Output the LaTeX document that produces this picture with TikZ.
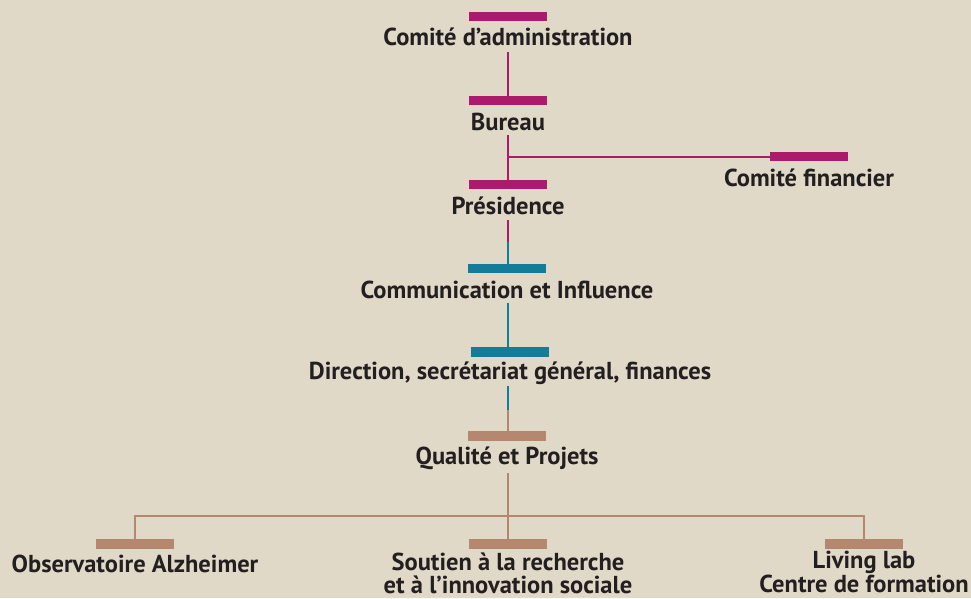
\documentclass[tikz,border=0pt]{standalone}
\usepackage{fontspec}
\setmainfont{PT Sans}
\definecolor{bg}{HTML}{E0D9C7}
\definecolor{mag}{HTML}{AB1A6B}
\definecolor{teal}{HTML}{137C98}
\definecolor{brn}{HTML}{B5876F}
\definecolor{ink}{HTML}{231F20}
\begin{document}
\begin{tikzpicture}[x=1pt,y=-1pt,
  bar/.style={rectangle,inner sep=0pt,minimum width=78pt,minimum height=9.5pt,draw=none},
  lbl/.style={font=\bfseries\fontsize{24.5}{22.5}\selectfont,text=ink,align=center,inner sep=0pt,anchor=base},
  conn/.style={line width=2pt}]
\fill[bg] (0,0) rectangle (971,598);
\useasboundingbox (0,0) rectangle (971,598);
% bars
\node[bar,fill=mag] (b1) at (508,16.5) {};
\node[bar,fill=mag] (b2) at (508,100.5) {};
\node[bar,fill=mag] (b3) at (508,184.5) {};
\node[bar,fill=mag] (bf) at (809,156.5) {};
\node[bar,fill=teal] (b4) at (507,268.5) {};
\node[bar,fill=teal] (b5) at (510,352) {};
\node[bar,fill=brn] (b6) at (507,436) {};
\node[bar,fill=brn] (b7) at (135,544) {};
\node[bar,fill=brn] (b8) at (508,544) {};
\node[bar,fill=brn] (b9) at (864,544) {};
% labels
\node[lbl] (t1) at (508,45) {Comité d’administration};
\node[lbl] (t2) at (508,130) {Bureau};
\node[lbl] (t3) at (508,214) {Présidence};
\node[lbl] (tf) at (809,186) {Comité financier};
\node[lbl] (t4) at (507,298) {Communication et Influence};
\node[lbl] (t5) at (510,379) {Direction, secrétariat général, finances};
\node[lbl] (t6) at (507,464) {Qualité et Projets};
\node[lbl] (t7) at (135,572) {Observatoire Alzheimer};
\node[lbl,text depth=0pt] (t8) at (508,593) {Soutien à la recherche\\et à l’innovation sociale};
\node[lbl,text depth=0pt] (t9) at (864,592.5) {Living lab\\Centre de formation};
% connector points
\coordinate (c1) at (508,52);
\coordinate (c2) at (508,135);
\coordinate (cj) at (508,157);
\coordinate (c3) at (508,220);
\coordinate (c3m) at (508,242);
\coordinate (c4) at (508,303);
\coordinate (c5) at (508,386);
\coordinate (c5m) at (508,410);
\coordinate (c6) at (508,473);
\coordinate (cb) at (508,516);
% connectors
\draw[conn,mag] (c1) -- (b2.north -| c1);
\draw[conn,mag] (c2) -- (b3.north -| c2);
\draw[conn,mag] (cj) -- (bf.west |- cj);
\draw[conn,mag] (c3) -- (c3m);
\draw[conn,teal] (c3m) -- (b4.north -| c3m);
\draw[conn,teal] (c4) -- (b5.north -| c4);
\draw[conn,teal] (c5) -- (c5m);
\draw[conn,brn] (c5m) -- (b6.north -| c5m);
\draw[conn,brn] (c6) -- (b8.north -| c6);
\draw[conn,brn] (b7.north) |- (cb) -| (b9.north);
\end{tikzpicture}
\end{document}
